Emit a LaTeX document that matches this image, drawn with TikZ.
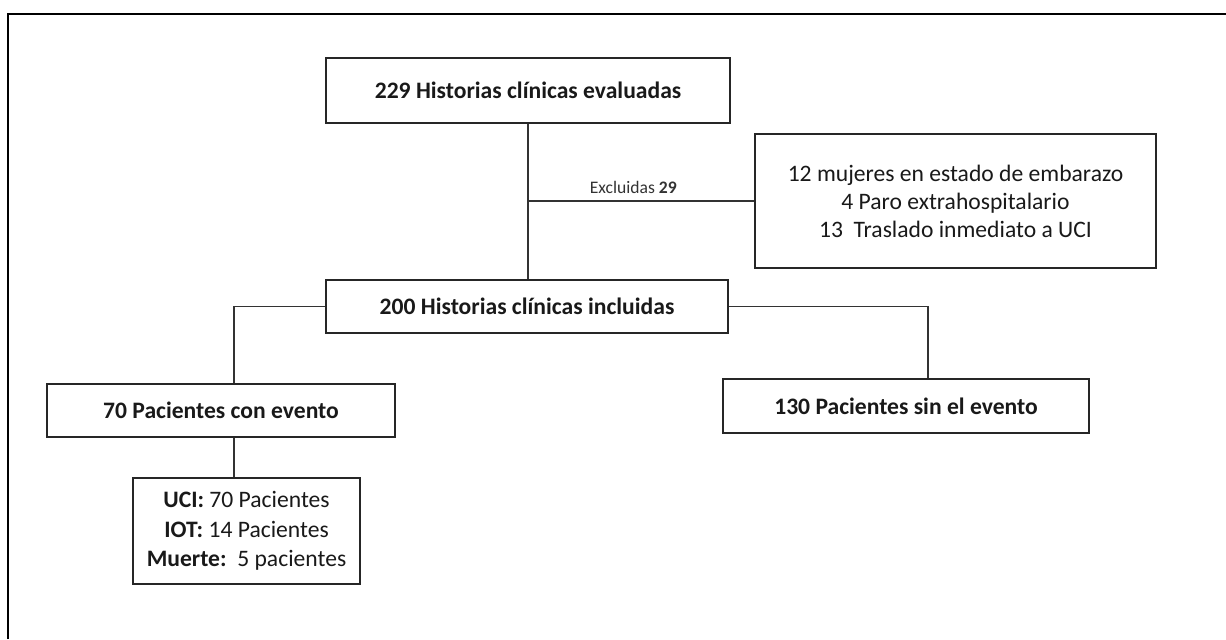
\documentclass[tikz,border=0pt]{standalone}
\usepackage{fontspec}
\setmainfont{Carlito}
\begin{document}
\begin{tikzpicture}[x=0.75pt,y=-0.75pt,
 box/.style={draw=black!85,line width=1pt,inner sep=0pt,align=center,text=black!90,font=\fontsize{17.7}{21}\selectfont},
 conn/.style={draw=black!80,line width=1pt},
 lbl/.style={text=black!80,font=\fontsize{13.2}{15}\selectfont,inner sep=0pt}]
\useasboundingbox (0,0) rectangle (1226,639);
\draw[line width=1.6pt] (8,639) -- (8,14) -- (1226,14);
\node[box,minimum width=303pt,minimum height=48.75pt] (b1) at (528,90.5) {\textbf{229 Historias clínicas evaluadas}};
\node[box,minimum width=300.75pt,minimum height=100.5pt] (ex) at (955.5,201) {12 mujeres en estado de embarazo\\4 Paro extrahospitalario\\13\ \ Traslado inmediato a UCI};
\node[box,minimum width=301.5pt,minimum height=39.75pt] (b2) at (527,306.5) {\textbf{200 Historias clínicas incluidas}};
\node[box,minimum width=261pt,minimum height=39.75pt] (b3) at (221,410.5) {\textbf{70 Pacientes con evento}};
\node[box,minimum width=274.5pt,minimum height=40.5pt] (b5) at (906,406) {\textbf{130 Pacientes sin el evento}};
\node[box,minimum width=170.25pt,minimum height=79.5pt,font=\fontsize{17.7}{22}\selectfont] (b4) at (246.5,531) {\textbf{UCI:} 70 Pacientes\\\textbf{IOT:} 14 Pacientes\\\textbf{Muerte:}\ \ 5 pacientes};
\draw[conn] (b1.south) -- (b1.south |- b2.north);
\coordinate (j) at (b1.south |- ex.west);
\draw[conn] (j) -- node[lbl,pos=0.465,above=5pt] (el) {Excluidas \textbf{29}} (ex.west);
\draw[conn] (b2.west) -| ([xshift=9.75pt]b3.north);
\draw[conn] ([xshift=9.75pt]b3.south) -- ([xshift=9.75pt]b3.south |- b4.north);
\draw[conn] (b2.east) -| ([xshift=16.5pt]b5.north);
\end{tikzpicture}
\end{document}
